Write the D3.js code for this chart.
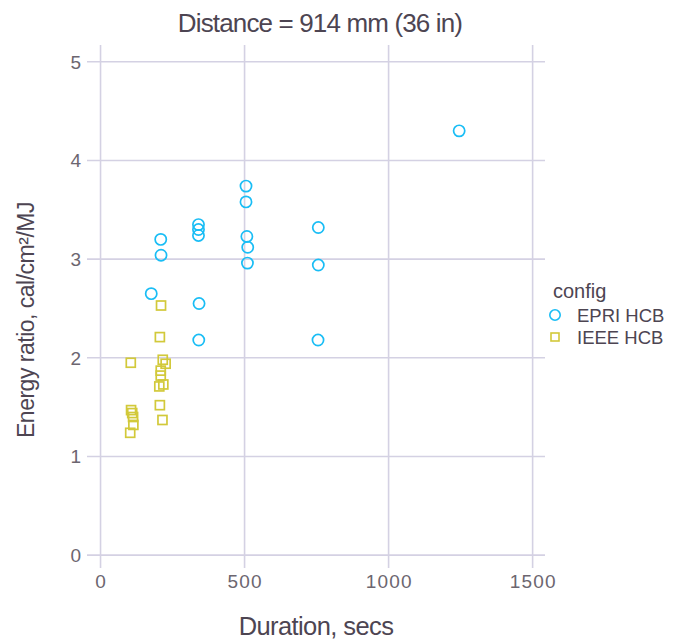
<!DOCTYPE html>
<html>
<head>
<meta charset="utf-8">
<script src="https://cdn.jsdelivr.net/npm/d3@7"></script>
<style>
  body { margin: 0; background: #fff; }
  text { font-family: 'Liberation Sans', Arial, sans-serif; }
</style>
</head>
<body>
<svg id="chart" width="681" height="640"></svg>
<script>
// EPRI HCB points
const epriDuration = [1245, 505, 505, 340, 340, 340, 209, 508, 511, 510, 210, 176, 342, 341, 756, 756, 755]
const epriRatio = [4.30, 3.74, 3.58, 3.35, 3.30, 3.24, 3.20, 3.23, 3.12, 2.96, 3.04, 2.65, 2.55, 2.18, 3.32, 2.94, 2.18]

// IEEE HCB points
const ieeeDuration = [210, 206, 105, 216, 226, 209, 209, 218, 204, 206, 215, 106, 110, 113, 114, 103]
const ieeeRatio = [2.53, 2.21, 1.95, 1.98, 1.94, 1.87, 1.82, 1.73, 1.71, 1.52, 1.37, 1.47, 1.44, 1.40, 1.32, 1.24]

const xTicks = [0, 500, 1000, 1500]
const yTicks = [0, 1, 2, 3, 4, 5]
const configNames = ['EPRI HCB', 'IEEE HCB']
const configColors = ['#19bdf5', '#d2c93a']

const svg = d3.select('#chart')
const panel = { left: 87, right: 545, top: 45, bottom: 568 }

const x = d3.scaleLinear().domain([-47, 1543]).range([panel.left, panel.right])
const y = d3.scaleLinear().domain([-0.13, 5.17]).range([panel.bottom, panel.top])

const gridColor = '#d4d1e3'
const tickColor = '#6c6670'
const textColor = '#4d4552'

// grid lines
svg.append('g').selectAll('line.v').data(xTicks).enter().append('line')
  .attr('x1', d => x(d)).attr('x2', d => x(d))
  .attr('y1', panel.top).attr('y2', panel.bottom)
  .style('stroke', gridColor).style('stroke-width', 1.6)
svg.append('g').selectAll('line.h').data(yTicks).enter().append('line')
  .attr('x1', panel.left).attr('x2', panel.right)
  .attr('y1', d => y(d)).attr('y2', d => y(d))
  .style('stroke', gridColor).style('stroke-width', 1.6)

// tick labels
svg.append('g').selectAll('text').data(xTicks).enter().append('text')
  .attr('x', d => x(d) + 0.6).attr('y', 588)
  .attr('text-anchor', 'middle')
  .style('font-size', '19px').style('letter-spacing', '1.2px')
  .style('fill', tickColor)
  .text(d => d)
svg.append('g').selectAll('text').data(yTicks).enter().append('text')
  .attr('x', 81).attr('y', d => y(d) + 7)
  .attr('text-anchor', 'end')
  .style('font-size', '19px')
  .style('fill', tickColor)
  .text(d => d)

// points
const epri = epriDuration.map((d, i) => [d, epriRatio[i]])
const ieee = ieeeDuration.map((d, i) => [d, ieeeRatio[i]])

svg.append('g').selectAll('circle').data(epri).enter().append('circle')
  .attr('cx', d => x(d[0])).attr('cy', d => y(d[1]))
  .attr('r', 5.6)
  .style('fill', 'none').style('stroke', configColors[0]).style('stroke-width', 1.7)

svg.append('g').selectAll('rect').data(ieee).enter().append('rect')
  .attr('x', d => x(d[0]) - 4.5).attr('y', d => y(d[1]) - 4.5)
  .attr('width', 9).attr('height', 9)
  .style('fill', 'none').style('stroke', configColors[1]).style('stroke-width', 1.7)

// title
svg.append('text')
  .attr('x', 320).attr('y', 32)
  .attr('text-anchor', 'middle')
  .style('font-size', '26px').style('letter-spacing', '-0.85px')
  .style('fill', textColor)
  .text('Distance = 914 mm (36 in)')

// axis titles
svg.append('text')
  .attr('x', 316).attr('y', 635)
  .attr('text-anchor', 'middle')
  .style('font-size', '25.5px').style('letter-spacing', '-0.6px')
  .style('fill', textColor)
  .text('Duration, secs')
svg.append('text')
  .attr('transform', 'translate(34,320) rotate(-90)')
  .attr('text-anchor', 'middle')
  .style('font-size', '23px').style('letter-spacing', '-0.5px')
  .style('fill', textColor)
  .text('Energy ratio, cal/cm²/MJ')

// legend
const legend = svg.append('g').attr('transform', 'translate(555,0)')
legend.append('text')
  .attr('x', -2).attr('y', 298)
  .style('font-size', '20px')
  .style('fill', textColor)
  .text('config')
const entries = legend.selectAll('g.entry').data(configNames).enter().append('g')
  .attr('transform', (d, i) => `translate(0,${315 + i * 22})`)
entries.filter((d, i) => i === 0).append('circle')
  .attr('r', 5.2).style('fill', 'none').style('stroke', configColors[0]).style('stroke-width', 1.6)
entries.filter((d, i) => i === 1).append('rect')
  .attr('x', -4).attr('y', -4).attr('width', 8).attr('height', 8)
  .style('fill', 'none').style('stroke', configColors[1]).style('stroke-width', 1.6)
entries.append('text')
  .attr('x', 22).attr('y', 6.5)
  .style('font-size', '18.5px')
  .style('fill', textColor)
  .text(d => d)
</script>
</body>
</html>
